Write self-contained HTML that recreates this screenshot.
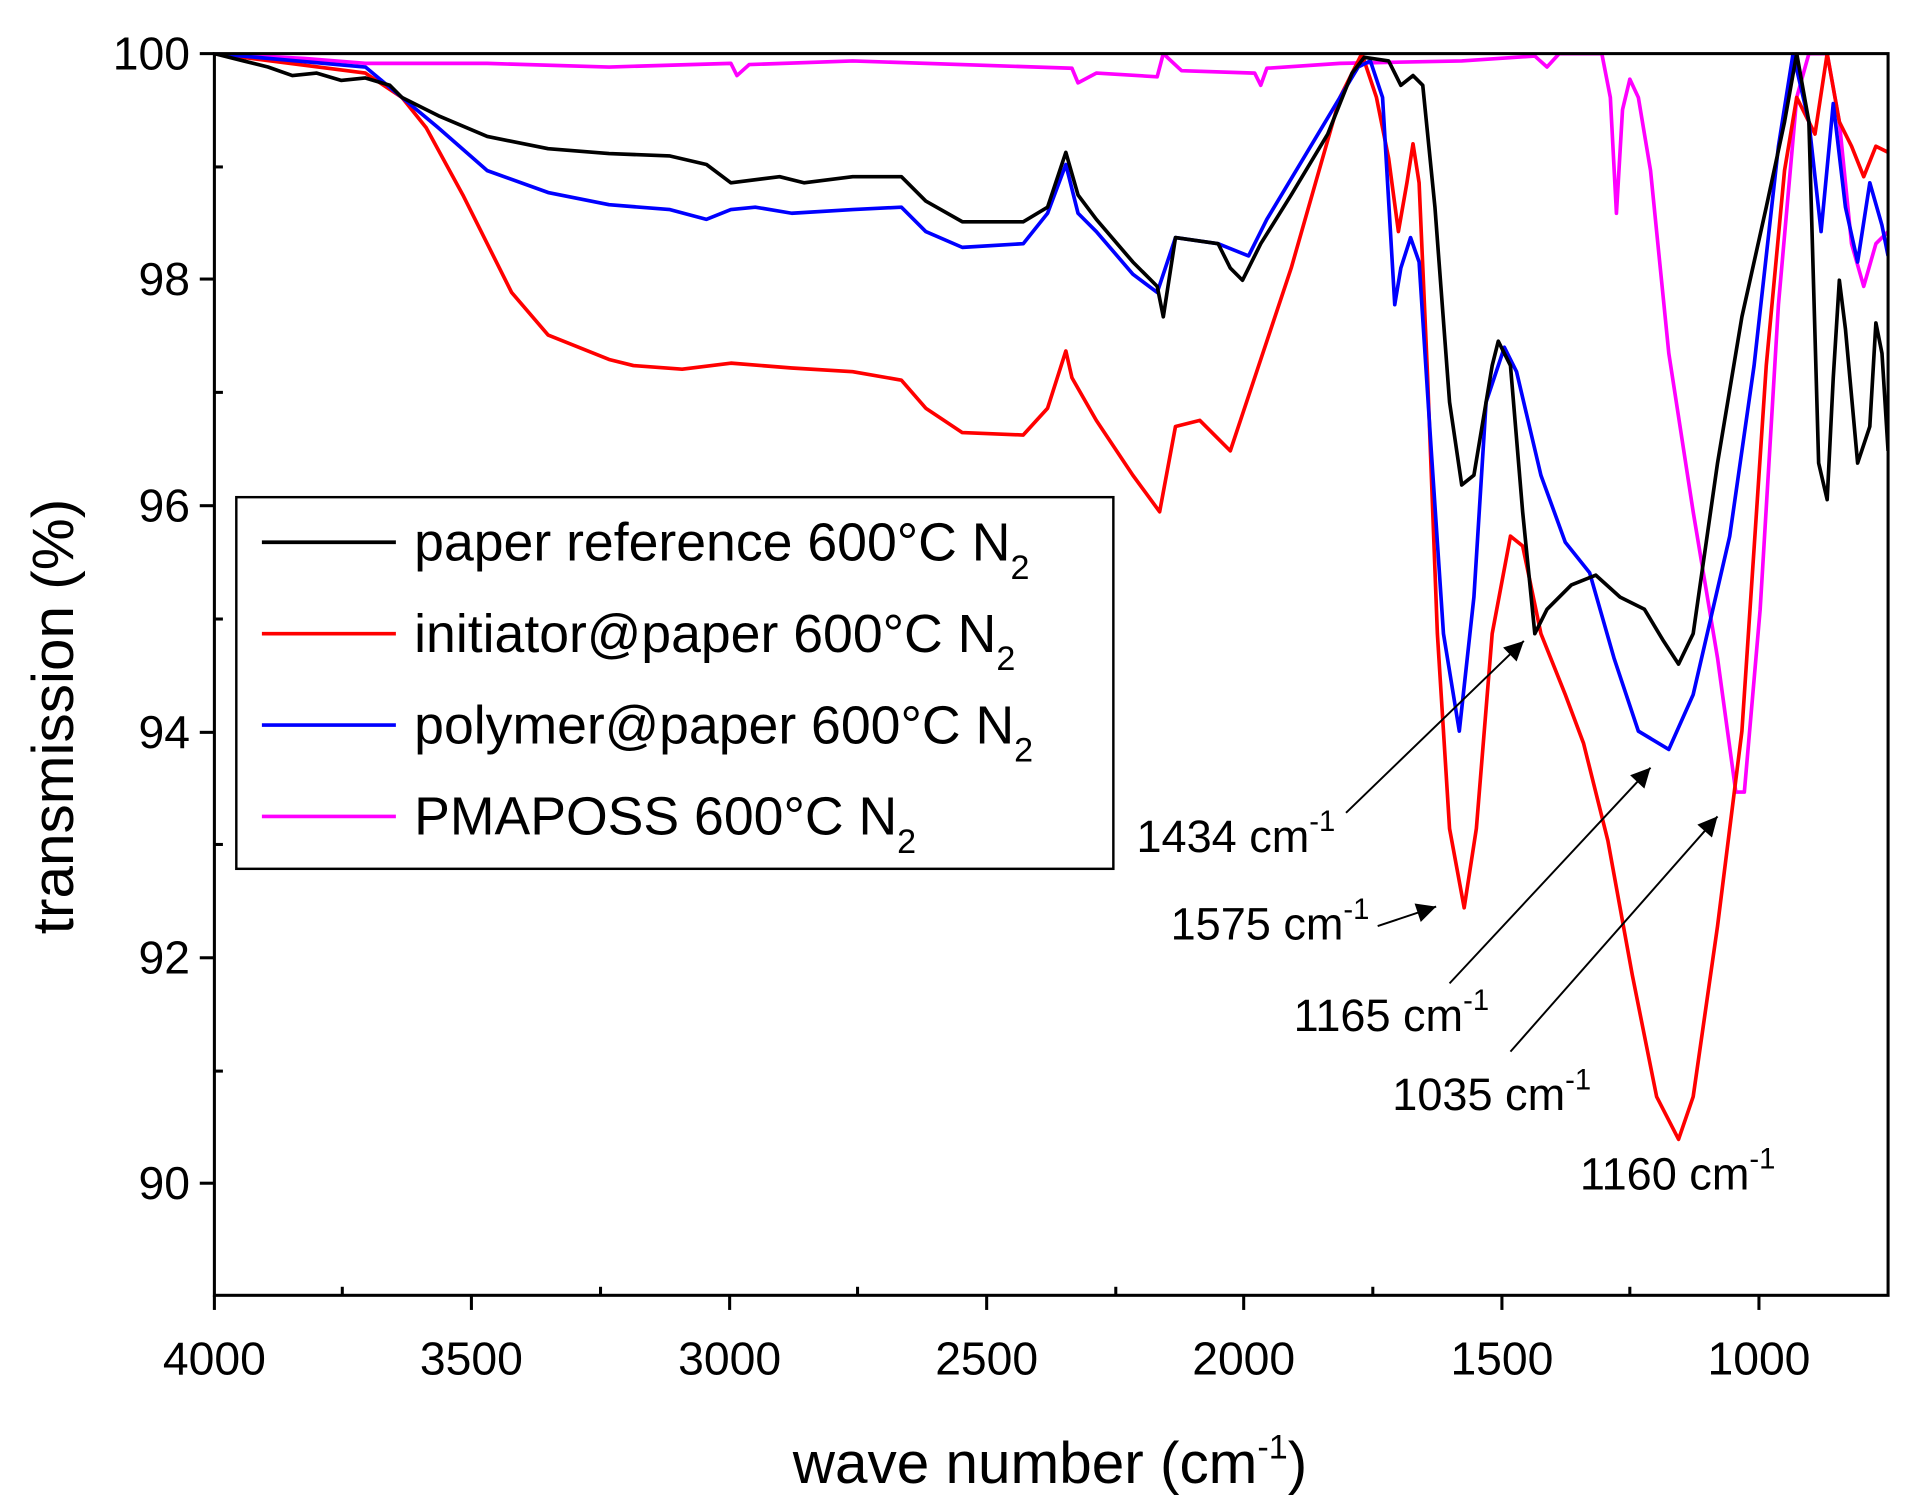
<!DOCTYPE html>
<html><head><meta charset="utf-8"><style>
html,body{margin:0;padding:0;background:#fff;}
svg{display:block;}
text{font-family:"Liberation Sans",Arial,sans-serif;fill:#000;}
</style></head><body>
<svg width="1910" height="1511" viewBox="0 0 1568 1240" preserveAspectRatio="none" xmlns="http://www.w3.org/2000/svg">
<defs>
<marker id="ar2" viewBox="0 0 10 10" refX="10" refY="5" markerWidth="28" markerHeight="16" orient="auto" markerUnits="userSpaceOnUse"><path d="M0,0 L10,5 L0,10 z" fill="#000"/></marker></defs>
<g fill="none" stroke-width="3" stroke-linejoin="round">
<polyline stroke="#ff00ff" points="176,44 250,48 300,52 400,52 500,55 600,52 605,62 615,53 700,50 880,56 885,68 900,60 950,63 955,44 970,58 1030,60 1035,70 1040,56 1100,52 1200,50 1260,46 1270,55 1280,44 1315,44 1322,80 1327,175 1332,90 1338,65 1345,80 1355,140 1370,290 1390,420 1410,540 1425,650 1432,650 1445,500 1460,250 1475,80 1485,44 1500,44 1510,100 1520,200 1530,235 1540,200 1550,190"/>
<polyline stroke="#ff0000" points="176,44 300,60 330,80 350,105 380,160 420,240 450,275 500,295 520,300 560,303 600,298 650,302 700,305 740,312 760,335 790,355 840,357 860,335 875,288 880,310 900,345 930,390 952,420 965,350 985,345 1000,360 1010,370 1020,340 1040,280 1060,220 1080,150 1100,80 1118,44 1130,80 1140,130 1148,190 1155,150 1160,118 1165,150 1172,310 1180,520 1190,680 1202,745 1212,680 1225,520 1240,440 1250,448 1265,520 1285,570 1300,610 1320,690 1340,800 1360,900 1378,935 1390,900 1410,760 1430,600 1450,300 1465,140 1475,80 1490,110 1500,44 1510,100 1520,120 1530,145 1540,120 1550,125"/>
<polyline stroke="#0000ff" points="176,44 300,55 330,80 360,105 400,140 450,158 500,168 550,172 580,180 600,172 620,170 650,175 700,172 740,170 760,190 790,203 840,200 860,175 875,135 885,175 900,190 930,225 950,240 965,195 1000,200 1025,210 1040,180 1070,130 1100,80 1115,55 1125,50 1135,80 1145,250 1150,220 1158,195 1165,215 1175,370 1185,520 1198,600 1210,490 1220,330 1235,285 1245,305 1265,390 1285,445 1305,470 1325,540 1345,600 1370,615 1390,570 1420,440 1440,300 1460,120 1472,44 1485,100 1495,190 1505,85 1515,170 1525,215 1535,150 1545,185 1550,210"/>
<polyline stroke="#000" points="176,44 200,50 220,55 240,62 260,60 280,66 300,64 320,70 330,80 360,95 400,112 450,122 500,126 550,128 580,135 600,150 640,145 660,150 700,145 740,145 760,165 790,182 840,182 860,170 875,125 885,160 900,180 930,215 950,235 955,260 965,195 1000,200 1010,220 1020,230 1035,200 1060,160 1090,110 1110,60 1120,47 1140,50 1150,70 1160,62 1168,70 1178,170 1190,330 1200,398 1210,390 1225,300 1230,280 1240,300 1250,420 1260,520 1270,500 1290,480 1310,472 1330,490 1350,500 1365,525 1378,545 1390,520 1410,380 1430,260 1450,170 1465,100 1475,44 1485,100 1493,380 1500,410 1505,310 1510,230 1515,270 1525,380 1535,350 1540,265 1545,290 1550,370"/>
</g>
<rect x="0" y="0" width="176" height="1240" fill="#fff"/>
<rect x="0" y="0" width="1568" height="43" fill="#fff"/>
<rect x="1551" y="0" width="17" height="1240" fill="#fff"/>
<rect x="176" y="44" width="1374" height="1019" fill="none" stroke="#000" stroke-width="2.5"/>
<g stroke="#000" stroke-width="2.5">
<line x1="176" y1="1063" x2="176" y2="1075"/><line x1="387" y1="1063" x2="387" y2="1075"/><line x1="599" y1="1063" x2="599" y2="1075"/><line x1="810" y1="1063" x2="810" y2="1075"/><line x1="1021" y1="1063" x2="1021" y2="1075"/><line x1="1233" y1="1063" x2="1233" y2="1075"/><line x1="1444" y1="1063" x2="1444" y2="1075"/>
<line x1="281" y1="1063" x2="281" y2="1056"/><line x1="493" y1="1063" x2="493" y2="1056"/><line x1="704" y1="1063" x2="704" y2="1056"/><line x1="916" y1="1063" x2="916" y2="1056"/><line x1="1127" y1="1063" x2="1127" y2="1056"/><line x1="1338" y1="1063" x2="1338" y2="1056"/>
<line x1="164" y1="44" x2="176" y2="44"/><line x1="164" y1="229" x2="176" y2="229"/><line x1="164" y1="415" x2="176" y2="415"/><line x1="164" y1="601" x2="176" y2="601"/><line x1="164" y1="786" x2="176" y2="786"/><line x1="164" y1="971" x2="176" y2="971"/>
<line x1="176" y1="137" x2="183" y2="137"/><line x1="176" y1="322" x2="183" y2="322"/><line x1="176" y1="508" x2="183" y2="508"/><line x1="176" y1="693" x2="183" y2="693"/><line x1="176" y1="879" x2="183" y2="879"/>
</g>
<g font-size="38" text-anchor="end">
<text x="156" y="57">100</text><text x="156" y="242">98</text><text x="156" y="428">96</text><text x="156" y="614">94</text><text x="156" y="799">92</text><text x="156" y="984">90</text></g>
<g font-size="38" text-anchor="middle">
<text x="176" y="1128">4000</text><text x="387" y="1128">3500</text><text x="599" y="1128">3000</text><text x="810" y="1128">2500</text><text x="1021" y="1128">2000</text><text x="1233" y="1128">1500</text><text x="1444" y="1128">1000</text></g>
<text x="862" y="1217" font-size="48" text-anchor="middle">wave number (cm<tspan font-size="28" dy="-20">-1</tspan><tspan dy="20">)</tspan></text>
<text transform="translate(60,588) rotate(-90)" font-size="48" text-anchor="middle">transmission (%)</text>
<rect x="194" y="408" width="720" height="305" fill="#fff" stroke="#000" stroke-width="2"/>
<g stroke-width="3"><line x1="215" y1="445" x2="325" y2="445" stroke="#000"/><line x1="215" y1="520" x2="325" y2="520" stroke="#f00"/><line x1="215" y1="595" x2="325" y2="595" stroke="#00f"/><line x1="215" y1="670" x2="325" y2="670" stroke="#f0f"/></g>
<g font-size="44">
<text x="340" y="460">paper reference 600°C N<tspan font-size="28" dy="15">2</tspan></text>
<text x="340" y="535">initiator@paper 600°C N<tspan font-size="28" dy="15">2</tspan></text>
<text x="340" y="610">polymer@paper 600°C N<tspan font-size="28" dy="15">2</tspan></text>
<text x="340" y="685">PMAPOSS 600°C N<tspan font-size="28" dy="15">2</tspan></text>
</g>
<g font-size="37">
<text x="933" y="699">1434 cm<tspan font-size="24" dy="-17">-1</tspan></text>
<text x="961" y="771">1575 cm<tspan font-size="24" dy="-17">-1</tspan></text>
<text x="1062" y="846">1165 cm<tspan font-size="24" dy="-17">-1</tspan></text>
<text x="1143" y="911">1035 cm<tspan font-size="24" dy="-17">-1</tspan></text>
<text x="1297" y="976">1160 cm<tspan font-size="24" dy="-17">-1</tspan></text>
</g>
<g stroke="#000" stroke-width="1.6">
<line x1="1105" y1="667" x2="1251" y2="526" marker-end="url(#ar2)"/>
<line x1="1131" y1="760" x2="1179" y2="744" marker-end="url(#ar2)"/>
<line x1="1190" y1="807" x2="1355" y2="630" marker-end="url(#ar2)"/>
<line x1="1240" y1="863" x2="1410" y2="670" marker-end="url(#ar2)"/>
</g>
</svg>
</body></html>
